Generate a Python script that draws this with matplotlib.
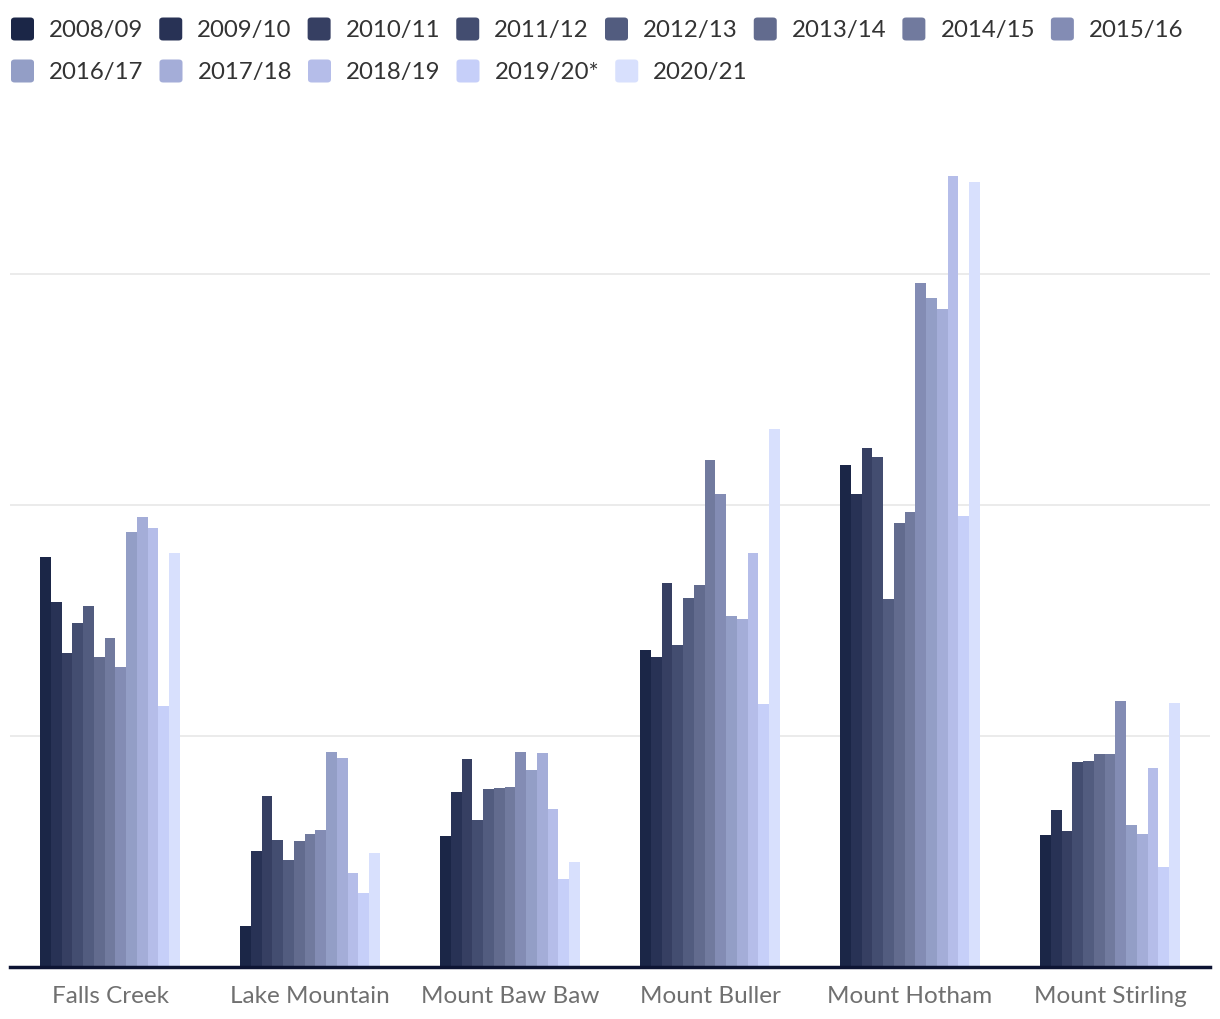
import numpy as np
import matplotlib
matplotlib.use("Agg")
from matplotlib import pyplot as plt
from matplotlib.patches import FancyBboxPatch

resorts = ["Falls Creek", "Lake Mountain", "Mount Baw Baw",
           "Mount Buller", "Mount Hotham", "Mount Stirling"]
seasons = ["2008/09", "2009/10", "2010/11", "2011/12", "2012/13", "2013/14", "2014/15",
           "2015/16", "2016/17", "2017/18", "2018/19", "2019/20*", "2020/21"]

# one list per resort, values in season order (arbitrary units)
falls_creek = [177.5, 158.0, 135.9, 148.9, 156.3, 134.2, 142.4, 129.9, 188.3, 194.8, 190.0, 113.0, 179.2]
lake_mountain = [17.7, 50.2, 74.0, 55.0, 46.3, 54.5, 57.6, 59.3, 93.1, 90.5, 40.7, 32.0, 49.4]
mount_baw_baw = [56.7, 75.7, 90.1, 63.5, 77.1, 77.4, 77.9, 93.0, 85.3, 92.6, 68.3, 38.0, 45.4]
mount_buller = [137.2, 134.2, 166.3, 139.4, 159.8, 165.4, 219.5, 205.1, 151.9, 150.7, 179.3, 113.9, 232.9]
mount_hotham = [217.5, 205.0, 225.0, 220.7, 159.6, 192.5, 196.9, 296.4, 289.9, 285.1, 342.8, 195.2, 340.1]
mount_stirling = [57.0, 68.0, 59.1, 88.9, 89.4, 92.3, 92.1, 115.4, 61.5, 57.7, 86.3, 43.5, 114.2]

colors = ["#1b2647", "#283255", "#363f62", "#434d70", "#525c7f", "#626b8e", "#717a9e",
          "#838cb4", "#939ec6", "#a4add8", "#b5bde9", "#c6cff9", "#d8e0fd"]

values = np.array([falls_creek, lake_mountain, mount_baw_baw,
                   mount_buller, mount_hotham, mount_stirling])

plt.rcParams['font.family'] = ['Lato', 'DejaVu Sans']

fig = plt.figure(figsize=(12.2, 10.2), dpi=100)
ax = fig.add_axes([10 / 1220, 52 / 1020, 1200 / 1220, 808 / 1020])

x = np.arange(len(resorts))
n = len(seasons)
w = 0.7 / n
for i in range(n):
    ax.bar(x + (i - (n - 1) / 2) * w, values[:, i], width=w, color=colors[i],
           linewidth=0, zorder=3)

ax.set_xlim(-0.5, len(resorts) - 0.5)
ax.set_ylim(0, 350)
ax.set_yticks([100, 200, 300])
ax.yaxis.grid(True, color="#e6e6e6", linewidth=1.1, zorder=0)
ax.tick_params(axis="y", length=0, labelleft=False)
ax.set_xticks(x, resorts)
ax.tick_params(axis="x", length=0, pad=13, labelsize=17.5, labelcolor="#707070")
for s in ["top", "right", "left"]:
    ax.spines[s].set_visible(False)
ax.spines["bottom"].set_color("#0d1433")
ax.spines["bottom"].set_linewidth(2.5)
ax.spines["bottom"].set_zorder(4)

# legend drawn as a flowing row layout, like the original
renderer = fig.canvas.get_renderer()
W, H = 1220, 1020
sw = 23
x0, xpos, row_y = 11, 11, [30, 72]
row = 0
max_x = 1210
for i, lab in enumerate(seasons):
    t = fig.text(0, 0, lab, fontsize=17.3, color="#333333", va="center", ha="left")
    tw = t.get_window_extent(renderer).width
    item_w = sw + 15 + tw
    if xpos + item_w > max_x:
        row += 1
        xpos = x0
    yc = row_y[row]
    fig.patches.append(FancyBboxPatch((xpos / W, (H - yc - sw / 2) / H), sw / W, sw / H,
                                      boxstyle="round,pad=0,rounding_size=0.003",
                                      transform=fig.transFigure, facecolor=colors[i],
                                      edgecolor="none"))
    t.set_position(((xpos + sw + 15) / W, (H - yc) / H))
    xpos += item_w + 16

plt.savefig("out.png", dpi=100)
